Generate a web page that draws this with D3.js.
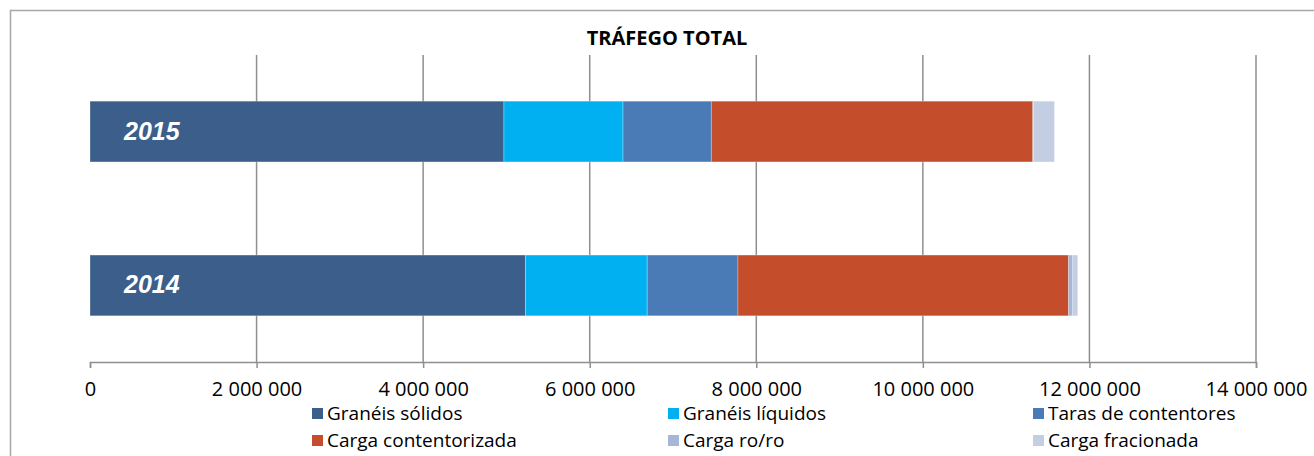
<!DOCTYPE html>
<html>
<head>
<meta charset="utf-8">
<script src="https://cdn.jsdelivr.net/npm/d3@7"></script>
<style>
  body { margin: 0; background: #fff; }
  text { font-family: "Open Sans", Lato, sans-serif; }
</style>
</head>
<body>
<svg id="chart" width="1314" height="456"></svg>
<script>
// data
const years = ['2015', '2014'];
const seriesNames = ['Granéis sólidos', 'Granéis líquidos', 'Taras de contentores',
  'Carga contentorizada', 'Carga ro/ro', 'Carga fracionada'];
const solidos = [4970000, 5230000];
const liquidos = [1430000, 1460000];
const taras = [1060000, 1090000];
const contentorizada = [3860000, 3970000];
const roro = [10000, 50000];
const fracionada = [250000, 60000];
const ticks = [0, 2000000, 4000000, 6000000, 8000000, 10000000, 12000000, 14000000];

const colors = ['#3b5e8b', '#00b0f0', '#4a7bb6', '#c44e2b', '#a5b7d7', '#c3cee3'];
const seriesValues = [solidos, liquidos, taras, contentorizada, roro, fracionada];

const MARGIN = { TOP: 55, LEFT: 90, RIGHT: 58, BOTTOM: 94 };
const WIDTH = 1314, HEIGHT = 456;

const svg = d3.select('#chart');

// outer frame
svg.append('rect')
  .attr('x', 10.5).attr('y', 10.5)
  .attr('width', 1320).attr('height', 460)
  .attr('fill', 'none').attr('stroke', '#a6a6a6').attr('stroke-width', 1.5);

const rows = years.map((y, i) => {
  const r = { year: y };
  seriesNames.forEach((s, j) => r[s] = seriesValues[j][i]);
  return r;
});
const stacked = d3.stack().keys(seriesNames)(rows);

const x = d3.scaleLinear()
  .domain([0, 14000000])
  .range([MARGIN.LEFT, WIDTH - MARGIN.RIGHT]);
const yScale = d3.scaleBand()
  .domain(years)
  .range([MARGIN.TOP, HEIGHT - MARGIN.BOTTOM])
  .paddingInner(0.605)
  .paddingOuter(0.3);

// gridlines
svg.append('g')
  .selectAll('line')
  .data(ticks.slice(1))
  .enter()
  .append('line')
  .attr('x1', d => x(d)).attr('x2', d => x(d))
  .attr('y1', MARGIN.TOP).attr('y2', HEIGHT - MARGIN.BOTTOM)
  .attr('stroke', '#8f8f8f').attr('stroke-width', 1.5);

// bars
svg.append('g')
  .selectAll('g')
  .data(stacked)
  .enter()
  .append('g')
  .attr('fill', (d, i) => colors[i])
  .selectAll('rect')
  .data(d => d)
  .enter()
  .append('rect')
  .attr('x', d => x(d[0]))
  .attr('y', d => yScale(d.data.year))
  .attr('width', d => x(d[1]) - x(d[0]))
  .attr('height', yScale.bandwidth())
  .attr('stroke', '#ffffff').attr('stroke-opacity', 0.35).attr('stroke-width', 0.8);

// year labels inside bars
svg.append('g')
  .selectAll('text')
  .data(years)
  .enter()
  .append('text')
  .attr('x', x(0) + 34)
  .attr('y', d => yScale(d) + yScale.bandwidth() / 2 + 8)
  .attr('fill', '#fff')
  .style('font-family', '"Liberation Sans", Arial, sans-serif')
  .style('font-weight', 'bold')
  .style('font-style', 'italic')
  .style('font-size', '25px')
  .text(d => d);

// x axis
const fmt = d => d3.format(',')(d).replace(/,/g, ' ');
const axis = svg.append('g')
  .attr('transform', `translate(0, ${HEIGHT - MARGIN.BOTTOM})`)
  .call(d3.axisBottom(x).tickValues(ticks).tickFormat(fmt).tickSize(6).tickPadding(14));
axis.select('.domain').attr('stroke', '#8f8f8f').attr('stroke-width', 1.5);
axis.selectAll('.tick line').attr('stroke', '#8f8f8f').attr('stroke-width', 1.5);
axis.selectAll('.tick text')
  .style('font-size', '20px')
  .style('font-family', '"Open Sans", sans-serif')
  .attr('fill', '#000');

// title
svg.append('text')
  .attr('x', 667).attr('y', 45)
  .attr('text-anchor', 'middle')
  .style('font-weight', 'bold')
  .style('font-size', '20px')
  .text('TRÁFEGO TOTAL');

// legend
const legendX = [312, 668, 1033];
const legendY = [413, 440];
const legend = svg.append('g')
  .selectAll('g')
  .data(seriesNames)
  .enter()
  .append('g')
  .attr('transform', (d, i) => `translate(${legendX[i % 3]}, ${legendY[Math.floor(i / 3)]})`);
legend.append('rect')
  .attr('x', 0).attr('y', -5)
  .attr('width', 11).attr('height', 11)
  .attr('fill', (d, i) => colors[i]);
legend.append('text')
  .attr('x', 15).attr('y', 7)
  .style('font-size', '19px')
  .text(d => d);
</script>
</body>
</html>
